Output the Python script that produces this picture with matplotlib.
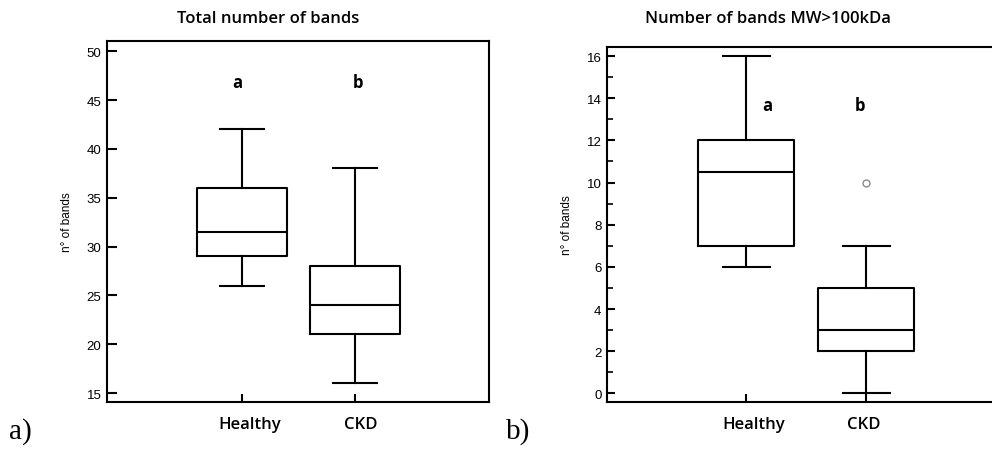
#!/usr/bin/env python3
import matplotlib
matplotlib.use("Agg")
import matplotlib.pyplot as plt
from matplotlib.transforms import ScaledTranslation

# data
groups = ["Healthy", "CKD"]

# panel a) total number of bands: whislo, q1, median, q3, whishi
total_lo = [26, 16]
total_q1 = [29, 21]
total_med = [31.5, 24]
total_q3 = [36, 28]
total_hi = [42, 38]
total_fliers = [[], []]
total_letters = ["a", "b"]

# panel b) number of bands MW>100kDa
big_lo = [6, 0]
big_q1 = [7, 2]
big_med = [10.5, 3]
big_q3 = [12, 5]
big_hi = [16, 7]
big_fliers = [[], [10]]
big_letters = ["a", "b"]

W, H = 992, 452
fig = plt.figure(figsize=(W / 100, H / 100), dpi=100)

lab_font = "Open Sans"
num_font = "Liberation Sans"


def px_rect(x0, y0, x1, y1):
    return [x0 / W, 1 - y1 / H, (x1 - x0) / W, (y1 - y0) / H]


def draw_panel(rect, lo, q1, med, q3, hi, fliers, letters, letter_y,
               letter_dx, ylim, xlim, yticks, minor, tick_len, title, title_x,
               panel, panel_x, label_shift):
    ax = fig.add_axes(rect)
    stats = []
    for i in range(len(groups)):
        stats.append(dict(whislo=lo[i], q1=q1[i], med=med[i], q3=q3[i],
                          whishi=hi[i], fliers=fliers[i]))
    lw = 1.5
    ax.bxp(stats, positions=[1, 2], widths=0.8, showfliers=True,
           boxprops=dict(color="black", linewidth=lw),
           medianprops=dict(color="black", linewidth=lw),
           whiskerprops=dict(color="black", linewidth=lw),
           capprops=dict(color="black", linewidth=lw),
           capwidths=0.39,
           flierprops=dict(marker="o", markerfacecolor="none",
                           markeredgecolor="#8a8a8a", markersize=5, markeredgewidth=1.0))
    ax.set_xlim(*xlim)
    ax.set_ylim(*ylim)
    ax.set_yticks(yticks)
    if minor:
        ax.set_yticks(minor, minor=True)
    ax.set_xticks([1, 2])
    ax.set_xticklabels([])
    # category names sit a little off the tick marks in the original
    for i, name in enumerate(groups):
        off = ScaledTranslation(label_shift[i] / 100, -22 / 100, fig.dpi_scale_trans)
        ax.text(1 + i, 0, name, transform=ax.get_xaxis_transform() + off,
                ha="center", va="center", fontfamily=lab_font, fontsize=12,
                fontweight="semibold")
    ax.tick_params(axis="y", direction="in", length=tick_len, width=1.5, pad=4,
                   labelsize=9.5, labelfontfamily=num_font)
    ax.tick_params(axis="y", which="minor", direction="in", length=4, width=1.2)
    ax.tick_params(axis="x", direction="in", length=6, width=1.5)
    for s in ax.spines.values():
        s.set_linewidth(1.5)
    for i, t in enumerate(letters):
        ax.text(1 + i + letter_dx[i], letter_y, t, ha="center", va="center",
                fontfamily=lab_font, fontsize=12, fontweight="bold")
    ax.set_ylabel("n° of bands", fontfamily=num_font, fontsize=8.5, labelpad=10)
    fig.text(title_x / W, 1 - 19 / H, title, ha="center", va="center",
             fontfamily=lab_font, fontsize=12, fontweight="semibold")
    fig.text(panel_x / W, 1 - 432 / H, panel, ha="left", va="center",
             fontfamily="Liberation Serif", fontsize=21)
    return ax


draw_panel(px_rect(107, 42, 489, 403), total_lo, total_q1, total_med, total_q3,
           total_hi, total_fliers, total_letters, 46.9, [-0.04, 0.03],
           (14.08, 51.06), (-0.195, 3.186), [15, 20, 25, 30, 35, 40, 45, 50], None, 7,
           "Total number of bands", 268, "a)", 9, [8, 6])

draw_panel(px_rect(607, 48, 996, 403), big_lo, big_q1, big_med, big_q3,
           big_hi, big_fliers, big_letters, 13.7, [0.18, -0.05],
           (-0.41, 16.43), (-0.158, 3.08), list(range(0, 17, 2)), list(range(1, 17, 2)), 6,
           "Number of bands MW>100kDa", 768, "b)", 506, [8, -3])

fig.savefig("out.png", dpi=100)
